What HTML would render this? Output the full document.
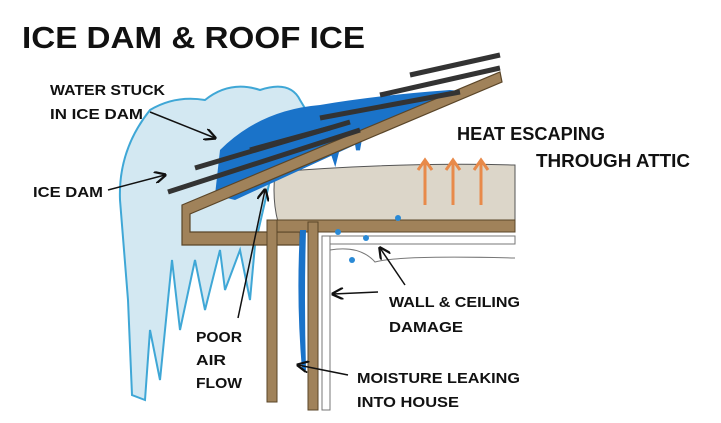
<!DOCTYPE html>
<html><head><style>
body{margin:0;background:#fff;width:721px;height:423px;overflow:hidden}
svg{display:block}
text{font-family:"Liberation Sans",sans-serif;font-weight:bold;fill:#111}
</style></head><body>
<svg width="721" height="423" viewBox="0 0 721 423" xmlns="http://www.w3.org/2000/svg">
<defs><marker id="ah" markerWidth="8" markerHeight="8" refX="7" refY="4" orient="auto"><path d="M0,0 L8,4 L0,8" fill="none" stroke="#111" stroke-width="1.5"/></marker></defs>
<text x="22" y="48" font-size="31" textLength="343" lengthAdjust="spacingAndGlyphs">ICE DAM &amp; ROOF ICE</text>
<!-- insulation -->
<path d="M275,172 Q400,162 515,165 L515,222 L278,222 Q272,200 275,172Z" fill="#dcd6c9" stroke="#555" stroke-width="1"/>
<!-- ice -->
<path d="M150,110 Q175,95 205,100 Q230,80 260,90 Q290,80 300,100 L330,150 L270,180 L255,245 L250,300 L240,250 L225,290 L220,250 L205,310 L195,260 L180,330 L172,260 L160,380 L150,330 L145,400 L132,395 L128,300 L120,200 Q118,150 150,110Z" fill="#d3e8f2" stroke="#3fa7d6" stroke-width="2"/>
<!-- water -->
<path d="M220,150 Q260,110 320,105 Q380,95 450,90 L470,92 L235,200 L215,195 Z" fill="#1a73c9"/>
<path d="M330,145 L335,160 L340,140 M355,132 L358,150 L362,128" stroke="#1a73c9" stroke-width="4" fill="none"/>
<!-- roof structure -->
<path d="M182,205 L500,72 L502,82 L190,214 L190,232 L300,232 L300,245 L182,245 Z" fill="#a0825a" stroke="#5a4528" stroke-width="1.2"/>
<rect x="267" y="220" width="248" height="12" fill="#a0825a" stroke="#5a4528" stroke-width="1"/>
<rect x="267" y="220" width="10" height="182" fill="#a0825a" stroke="#5a4528" stroke-width="1"/>
<rect x="308" y="222" width="10" height="188" fill="#a0825a" stroke="#5a4528" stroke-width="1"/>
<rect x="322" y="236" width="193" height="8" fill="#fff" stroke="#777" stroke-width="1"/>
<rect x="322" y="236" width="8" height="174" fill="#fff" stroke="#777" stroke-width="1"/>
<path d="M330,250 Q360,245 375,262 Q400,255 515,258" stroke="#777" fill="none"/>
<!-- shingles -->
<g stroke="#333" stroke-width="5" fill="none">
<path d="M168,192 L360,130"/><path d="M195,168 L350,122"/><path d="M320,118 L460,92"/><path d="M380,95 L500,68"/><path d="M410,75 L500,55"/><path d="M250,150 L330,128"/>
</g>
<!-- leak -->
<path d="M300,230 Q296,300 302,370 L306,370 Q304,300 306,230Z" fill="#1a73c9"/>
<g fill="#2a8ad6"><circle cx="338" cy="232" r="3"/><circle cx="352" cy="260" r="3"/><circle cx="366" cy="238" r="3"/><circle cx="398" cy="218" r="3"/></g>
<!-- heat arrows -->
<g stroke="#e88a4a" stroke-width="3" fill="none">
<path d="M425,205 L425,162 M418,170 L425,160 L432,170"/>
<path d="M453,205 L453,162 M446,170 L453,160 L460,170"/>
<path d="M481,205 L481,162 M474,170 L481,160 L488,170"/>
</g>
<!-- labels -->
<text x="50" y="95" font-size="15" textLength="115" lengthAdjust="spacingAndGlyphs">WATER STUCK</text>
<text x="50" y="119" font-size="15" textLength="93" lengthAdjust="spacingAndGlyphs">IN ICE DAM</text>
<text x="33" y="197" font-size="15" textLength="70" lengthAdjust="spacingAndGlyphs">ICE DAM</text>
<text x="457" y="140" font-size="18" textLength="148" lengthAdjust="spacingAndGlyphs">HEAT ESCAPING</text>
<text x="536" y="167" font-size="18" textLength="154" lengthAdjust="spacingAndGlyphs">THROUGH ATTIC</text>
<text x="389" y="307" font-size="15" textLength="131" lengthAdjust="spacingAndGlyphs">WALL &amp; CEILING</text>
<text x="389" y="332" font-size="15" textLength="74" lengthAdjust="spacingAndGlyphs">DAMAGE</text>
<text x="196" y="342" font-size="15" textLength="46" lengthAdjust="spacingAndGlyphs">POOR</text>
<text x="196" y="365" font-size="15" textLength="30" lengthAdjust="spacingAndGlyphs">AIR</text>
<text x="196" y="388" font-size="15" textLength="46" lengthAdjust="spacingAndGlyphs">FLOW</text>
<text x="357" y="383" font-size="15" textLength="163" lengthAdjust="spacingAndGlyphs">MOISTURE LEAKING</text>
<text x="357" y="407" font-size="15" textLength="102" lengthAdjust="spacingAndGlyphs">INTO HOUSE</text>
<g stroke="#111" stroke-width="1.5" fill="none" marker-end="url(#ah)">
<path d="M150,112 L215,138"/>
<path d="M108,190 L165,175"/>
<path d="M238,318 L265,190"/>
<path d="M405,285 L380,248"/>
<path d="M378,292 L333,294"/>
<path d="M348,375 L298,365"/>
</g>
</svg>
</body></html>
